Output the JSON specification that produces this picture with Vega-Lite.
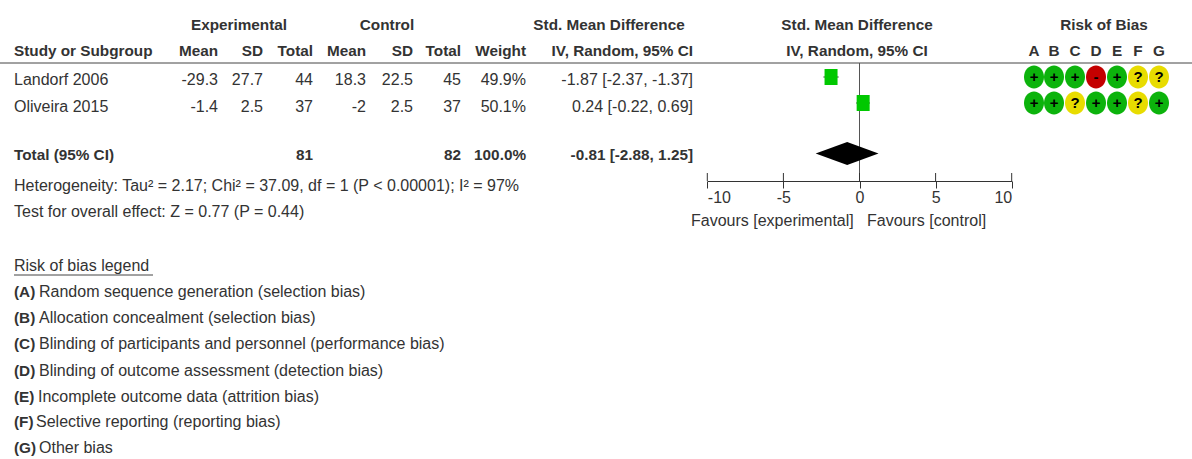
{
"$schema":"https://vega.github.io/schema/vega-lite/v6.json",
"width":1192,"height":459,"padding":0,"autosize":{"type":"none"},
"background":"white",
"config":{"view":{"stroke":null},"text":{"font":"Liberation Sans","fontSize":16,"color":"#333333"}},
"datasets":{
"leftPlain":[
{"col":1,"row":3,"text":"Landorf 2006"},{"col":1,"row":4,"text":"Oliveira 2015"},
{"col":1,"row":6,"text":"Heterogeneity: Tau² = 2.17; Chi² = 37.09, df = 1 (P < 0.00001); I² = 97%"},
{"col":1,"row":7,"text":"Test for overall effect: Z = 0.77 (P = 0.44)"},
{"col":1,"row":8,"text":"Risk of bias legend"},
{"col":22,"row":9,"text":"Random sequence generation (selection bias)"},
{"col":22,"row":10,"text":"Allocation concealment (selection bias)"},
{"col":22,"row":11,"text":"Blinding of participants and personnel (performance bias)"},
{"col":22,"row":12,"text":"Blinding of outcome assessment (detection bias)"},
{"col":23,"row":13,"text":"Incomplete outcome data (attrition bias)"},
{"col":24,"row":14,"text":"Selective reporting (reporting bias)"},
{"col":22,"row":15,"text":"Other bias"},
{"col":28,"row":22,"text":"Favours [experimental]"},{"col":29,"row":22,"text":"Favours [control]"}],
"leftBold":[
{"col":1,"row":2,"text":"Study or Subgroup"},{"col":1,"row":5,"text":"Total (95% CI)"},
{"col":1,"row":9,"text":"(A)"},{"col":1,"row":10,"text":"(B)"},{"col":1,"row":11,"text":"(C)"},{"col":1,"row":12,"text":"(D)"},{"col":1,"row":13,"text":"(E)"},{"col":1,"row":14,"text":"(F)"},{"col":1,"row":15,"text":"(G)"}],
"rightPlain":[
{"col":2,"row":3,"text":"-29.3"},{"col":3,"row":3,"text":"27.7"},{"col":4,"row":3,"text":"44"},{"col":5,"row":3,"text":"18.3"},{"col":6,"row":3,"text":"22.5"},{"col":7,"row":3,"text":"45"},{"col":8,"row":3,"text":"49.9%"},{"col":9,"row":3,"text":"-1.87 [-2.37, -1.37]"},
{"col":2,"row":4,"text":"-1.4"},{"col":3,"row":4,"text":"2.5"},{"col":4,"row":4,"text":"37"},{"col":5,"row":4,"text":"-2"},{"col":6,"row":4,"text":"2.5"},{"col":7,"row":4,"text":"37"},{"col":8,"row":4,"text":"50.1%"},{"col":9,"row":4,"text":"0.24 [-0.22, 0.69]"}],
"rightBold":[
{"col":2,"row":2,"text":"Mean"},{"col":3,"row":2,"text":"SD"},{"col":4,"row":2,"text":"Total"},{"col":5,"row":2,"text":"Mean"},{"col":6,"row":2,"text":"SD"},{"col":7,"row":2,"text":"Total"},{"col":8,"row":2,"text":"Weight"},{"col":9,"row":2,"text":"IV, Random, 95% CI"},
{"col":4,"row":5,"text":"81"},{"col":7,"row":5,"text":"82"},{"col":8,"row":5,"text":"100.0%"},{"col":9,"row":5,"text":"-0.81 [-2.88, 1.25]"}],
"centerBold":[
{"col":10,"row":1,"text":"Experimental"},{"col":11,"row":1,"text":"Control"},{"col":12,"row":1,"text":"Std. Mean Difference"},{"col":13,"row":1,"text":"Std. Mean Difference"},{"col":13,"row":2,"text":"IV, Random, 95% CI"},{"col":14,"row":1,"text":"Risk of Bias"},
{"col":15,"row":2,"text":"A"},{"col":16,"row":2,"text":"B"},{"col":17,"row":2,"text":"C"},{"col":18,"row":2,"text":"D"},{"col":19,"row":2,"text":"E"},{"col":20,"row":2,"text":"F"},{"col":21,"row":2,"text":"G"}],
"rob":[
{"col":15,"row":23,"judgement":"+"},{"col":16,"row":23,"judgement":"+"},{"col":17,"row":23,"judgement":"+"},{"col":18,"row":23,"judgement":"-"},{"col":19,"row":23,"judgement":"+"},{"col":20,"row":23,"judgement":"?"},{"col":21,"row":23,"judgement":"?"},
{"col":15,"row":24,"judgement":"+"},{"col":16,"row":24,"judgement":"+"},{"col":17,"row":24,"judgement":"?"},{"col":18,"row":24,"judgement":"+"},{"col":19,"row":24,"judgement":"+"},{"col":20,"row":24,"judgement":"?"},{"col":21,"row":24,"judgement":"+"}],
"lines":[{"col":25,"col2":26,"row":16},{"col":1,"col2":27,"row":21}],
"studies":[{"study":"Landorf 2006","row":23,"est":-1.87,"lo":-2.37,"hi":-1.37},{"study":"Oliveira 2015","row":24,"est":0.24,"lo":-0.22,"hi":0.69}],
"diamond":[{"x":-2.88,"top":25,"bottom":25},{"x":-0.81,"top":17,"bottom":18},{"x":1.25,"top":25,"bottom":25}],
"zero":[{"x":0,"top":16,"bottom":20}],
"ticks":[{"x":-10,"top":19,"bottom":20},{"x":-5,"top":19,"bottom":20},{"x":0,"top":19,"bottom":20},{"x":5,"top":19,"bottom":20},{"x":10,"top":19,"bottom":20}]
},
"encoding":{"y":{"field":"row","type":"quantitative","axis":null,"scale":{"zero":false,"nice":false,
"domain":[1,2,3,4,5,6,7,8,9,10,11,12,13,14,15,16,17,18,19,20,21,22,23,24,25],
"range":[24.5,51,80,106.5,155,185.5,212,265.5,292,318,344,370.5,396.5,422,448,63,142,165,173,181,275,221,77,103,153.5]}}},
"resolve":{"scale":{"x":"independent"}},
"layer":[
{"encoding":{"x":{"field":"col","type":"quantitative","axis":null,"scale":{"zero":false,"nice":false,
"domain":[1,2,3,4,5,6,7,8,9,10,11,12,13,14,15,16,17,18,19,20,21,22,23,24,25,26,27,28,29],
"range":[14,218,263,313,366,413,461,526,693,239,387,609,857,1104,1034,1054,1075,1096,1117,1138,1159,39,38,36,0,1192,153,691,867]}},"text":{"field":"text"}},
"layer":[
{"data":{"name":"lines"},"mark":{"type":"rule","color":"#444444","strokeWidth":1},"encoding":{"x2":{"field":"col2"},"text":null}},
{"data":{"name":"leftPlain"},"mark":{"type":"text","align":"left","baseline":"middle"}},
{"data":{"name":"leftBold"},"mark":{"type":"text","align":"left","baseline":"middle","fontWeight":"bold","fontSize":15.3}},
{"data":{"name":"rightPlain"},"mark":{"type":"text","align":"right","baseline":"middle"}},
{"data":{"name":"rightBold"},"mark":{"type":"text","align":"right","baseline":"middle","fontWeight":"bold","fontSize":15.3}},
{"data":{"name":"centerBold"},"mark":{"type":"text","align":"center","baseline":"middle","fontWeight":"bold","fontSize":15.3}},
{"data":{"name":"rob"},"mark":{"type":"point","filled":true,"opacity":1,"size":529,"shape":"M -0.87 0 A 0.87 1 0 1 1 0.87 0 A 0.87 1 0 1 1 -0.87 0 Z"},"encoding":{"text":null,"color":{"field":"judgement","type":"nominal","legend":null,"scale":{"domain":["+","-","?"],"range":["#0cb30c","#c40000","#e8dc00"]}}}},
{"data":{"name":"rob"},"mark":{"type":"text","align":"center","baseline":"middle","fontWeight":"bold","fontSize":15,"color":"#000000"},"encoding":{"text":{"field":"judgement"}}}
]},
{"encoding":{"x":{"field":"x","type":"quantitative","title":null,"scale":{"zero":false,"nice":false,"domain":[-10,10],"range":[707.3,1011.7]},
"axis":{"values":[-10,-5,0,5,10],"offset":-278,"grid":false,"domainColor":"#333333","tickColor":"#333333","tickSize":7,"labelPadding":1,"labelFont":"Liberation Sans","labelFontSize":16,"labelColor":"#333333","title":null,"labelOverlap":false,"labelFlush":true,"labelExpr":"replace(format(datum.value,'d'),'−','-')"}}},
"layer":[
{"data":{"name":"zero"},"mark":{"type":"rule","color":"#555555","strokeWidth":1},"encoding":{"y":{"field":"top","type":"quantitative"},"y2":{"field":"bottom"}}},
{"data":{"name":"ticks"},"mark":{"type":"rule","color":"#333333","strokeWidth":1},"encoding":{"y":{"field":"top","type":"quantitative"},"y2":{"field":"bottom"}}},
{"data":{"name":"studies"},"mark":{"type":"rule","color":"#333333","strokeWidth":1},"encoding":{"x":{"field":"lo","type":"quantitative"},"x2":{"field":"hi"}}},
{"data":{"name":"studies"},"transform":[{"filter":"datum.row==23"}],"mark":{"type":"rect","color":"#00c800","width":13,"height":16},"encoding":{"x":{"field":"est","type":"quantitative"}}},
{"data":{"name":"studies"},"transform":[{"filter":"datum.row==24"}],"mark":{"type":"rect","color":"#00c800","width":13,"height":16},"encoding":{"x":{"field":"est","type":"quantitative"}}},
{"data":{"name":"diamond"},"mark":{"type":"area","color":"#000000"},"encoding":{"y":{"field":"top","type":"quantitative"},"y2":{"field":"bottom"}}}
]}
]
}
